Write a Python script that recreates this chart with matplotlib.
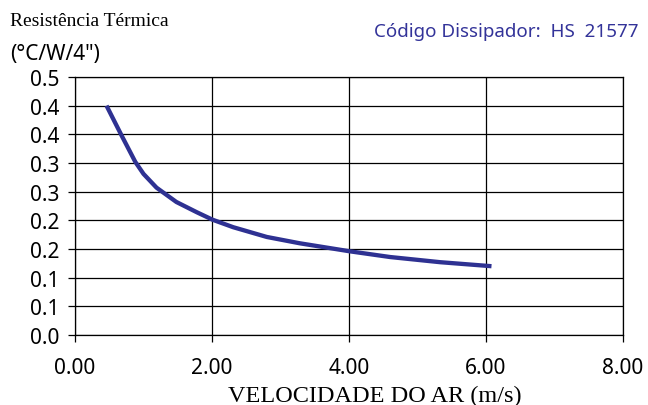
import matplotlib
matplotlib.use("Agg")
import matplotlib.pyplot as plt
from matplotlib.ticker import FormatStrFormatter

# --- dados ---
velocidade = [0.46, 0.68, 0.88, 1.0, 1.19, 1.48, 1.78, 2.01, 2.31, 2.80, 3.28, 4.01, 4.60, 5.33, 6.08]
resistencia = [0.40, 0.348, 0.302, 0.281, 0.257, 0.232, 0.214, 0.201, 0.188, 0.171, 0.160, 0.146, 0.136, 0.127, 0.120]
x_ticks = [0, 2, 4, 6, 8]
y_ticks = [0.0, 0.05, 0.1, 0.15, 0.2, 0.25, 0.3, 0.35, 0.4, 0.45]
# o Excel arredondava para uma casa decimal
y_labels = ["0.0", "0.1", "0.1", "0.2", "0.2", "0.3", "0.3", "0.4", "0.4", "0.5"]

azul = "#2E3192"
sans = "Noto Sans"

fig = plt.figure(figsize=(6.48, 4.06), dpi=100)
ax = fig.add_axes([75 / 648, 70 / 406, 548 / 648, 258 / 406])

ax.plot(velocidade, resistencia, color=azul, lw=3.1,
        solid_capstyle="butt", solid_joinstyle="round")

ax.set_xlim(0, 8)
ax.set_ylim(0, 0.45)
ax.set_xticks(x_ticks)
ax.set_yticks(y_ticks)
ax.set_yticklabels(y_labels)
ax.xaxis.set_major_formatter(FormatStrFormatter("%.2f"))
ax.grid(True, color="black", lw=0.9)
ax.tick_params(direction="out", length=5, width=0.9, labelsize=15, color="black")
ax.tick_params(axis="x", pad=11)
ax.tick_params(axis="y", pad=6)
for lab in ax.get_xticklabels() + ax.get_yticklabels():
    lab.set_family(sans)
for s in ax.spines.values():
    s.set_color("black")
    s.set_linewidth(0.9)

fig.text(10 / 648, (406 - 26) / 406, "Resistência Térmica", family="Liberation Serif",
         fontsize=14, va="baseline", ha="left")
fig.text(10 / 648, (406 - 60) / 406, "(°C/W/4\")", family=sans,
         fontsize=15, va="baseline", ha="left")
fig.text(639 / 648, (406 - 37) / 406, "Código Dissipador:  HS  21577", color="#333399",
         family=sans, fontsize=13.5, va="baseline", ha="right")
fig.text(375 / 648, 4 / 406, "VELOCIDADE DO AR (m/s)", family="Liberation Serif",
         fontsize=17.5, ha="center", va="baseline")

fig.savefig("out.png", dpi=100)
